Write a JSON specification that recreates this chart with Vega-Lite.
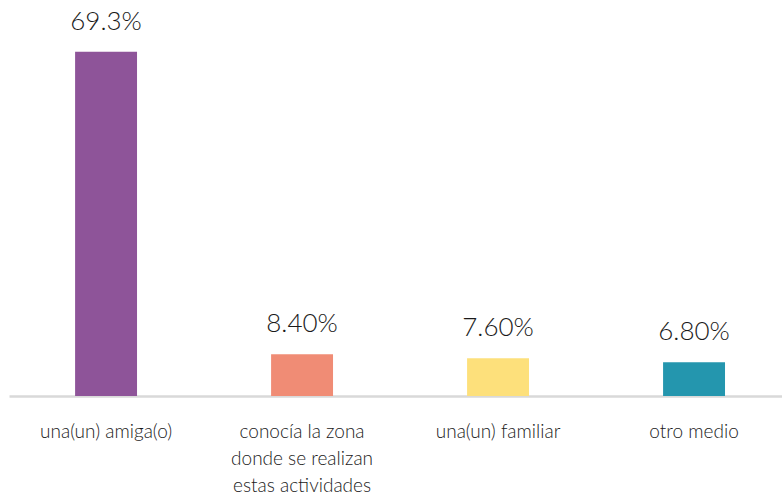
{
  "$schema": "https://vega.github.io/schema/vega-lite/v6.json",
  "autosize": "none",
  "padding": {"left": 9, "top": 0, "right": 0, "bottom": 100},
  "width": 773,
  "height": 396,
  "background": "white",
  "data": {"values": [
    {"category": "una(un) amiga(o)", "value": 69.3, "label": "69.3%"},
    {"category": "conocía la zona donde se realizan estas actividades", "value": 8.4, "label": "8.40%"},
    {"category": "una(un) familiar", "value": 7.6, "label": "7.60%"},
    {"category": "otro medio", "value": 6.8, "label": "6.80%"}
  ]},
  "encoding": {
    "x": {
      "field": "category", "type": "nominal", "sort": null,
      "scale": {"paddingInner": 0.684, "paddingOuter": 0.314, "align": 0.537},
      "axis": {
        "title": null, "labelAngle": 0, "ticks": false,
        "domainColor": "#d9d9d9", "domainWidth": 2.5,
        "labelFont": "Lato", "labelFontSize": 19, "labelFontWeight": 300,
        "labelColor": "#1a1a1a", "labelPadding": 41, "labelLineHeight": 27,
        "labelBaseline": "alphabetic", "labelLimit": 300,
        "labelExpr": "datum.value == 'conocía la zona donde se realizan estas actividades' ? ['conocía la zona', 'donde se realizan', 'estas actividades'] : datum.value"
      }
    },
    "y": {
      "field": "value", "type": "quantitative",
      "scale": {"domain": [0, 79.7], "nice": false},
      "axis": null
    }
  },
  "layer": [
    {
      "mark": {"type": "bar"},
      "encoding": {
        "color": {
          "field": "category", "type": "nominal", "sort": null, "legend": null,
          "scale": {"range": ["#8E5499", "#F08C75", "#FDE07B", "#2496AE"]}
        }
      }
    },
    {
      "mark": {"type": "text", "baseline": "alphabetic", "dy": -22, "font": "Lato", "fontSize": 26, "fontWeight": 300, "color": "#1a1a1a"},
      "encoding": {"text": {"field": "label"}}
    }
  ],
  "config": {"view": {"stroke": null}}
}
